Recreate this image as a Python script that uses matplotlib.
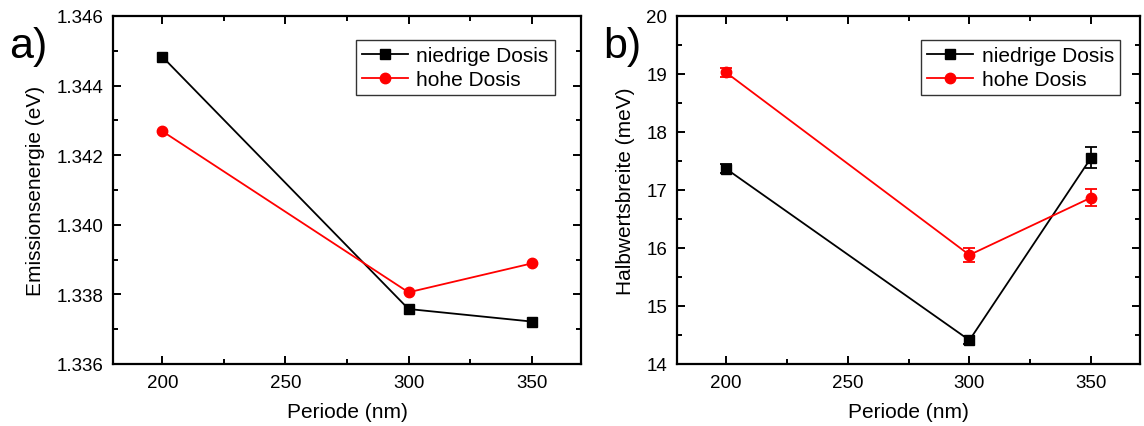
import matplotlib.pyplot as plt
from matplotlib.ticker import MultipleLocator

plt.rcParams['font.family'] = ['Liberation Sans', 'DejaVu Sans']
plt.rcParams['font.size'] = 14

# Periode der Strukturen (nm)
periode = [200, 300, 350]

# a) Emissionsenergie (eV)
energie_niedrig = [1.34483, 1.33758, 1.33722]
energie_hoch = [1.34269, 1.33806, 1.33889]

# b) Halbwertsbreite (meV) mit Fehlern
fwhm_niedrig = [17.37, 14.41, 17.56]
fwhm_niedrig_err = [0.08, 0.07, 0.18]
fwhm_hoch = [19.03, 15.88, 16.87]
fwhm_hoch_err = [0.08, 0.12, 0.15]

fig = plt.figure(figsize=(11.44, 4.27), dpi=100)
ax1 = fig.add_axes([0.0988, 0.1452, 0.409, 0.815])
ax2 = fig.add_axes([0.5918, 0.1452, 0.4047, 0.815])


def style(ax):
    for s in ax.spines.values():
        s.set_linewidth(1.6)
    ax.tick_params(which='both', direction='in', top=True, right=True,
                   labelsize=13.5, width=1.4, pad=7)
    ax.tick_params(which='major', length=6)
    ax.tick_params(which='minor', length=3.5)
    ax.set_xlim(180, 370)
    ax.xaxis.set_major_locator(MultipleLocator(50))
    ax.xaxis.set_minor_locator(MultipleLocator(25))
    ax.set_xlabel('Periode (nm)', fontsize=15, labelpad=8)


l1, = ax1.plot(periode, energie_niedrig, '-s', color='black', lw=1.3,
               ms=6.5, label='niedrige Dosis')
l2, = ax1.plot(periode, energie_hoch, '-o', color='red', lw=1.3, ms=7.5,
               label='hohe Dosis')
ax1.set_ylim(1.336, 1.346)
ax1.yaxis.set_major_locator(MultipleLocator(0.002))
ax1.yaxis.set_minor_locator(MultipleLocator(0.001))
ax1.yaxis.set_major_formatter(plt.FormatStrFormatter('%.3f'))
ax1.set_ylabel('Emissionsenergie (eV)', fontsize=15, labelpad=8)
style(ax1)

e1 = ax2.errorbar(periode, fwhm_niedrig, yerr=fwhm_niedrig_err, fmt='-s',
                  color='black', lw=1.3, ms=6.5, capsize=4, elinewidth=1.3,
                  capthick=1.3, label='niedrige Dosis')
e2 = ax2.errorbar(periode, fwhm_hoch, yerr=fwhm_hoch_err, fmt='-o',
                  color='red', lw=1.3, ms=7.5, capsize=4, elinewidth=1.3,
                  capthick=1.3, label='hohe Dosis')
ax2.set_ylim(14, 20)
ax2.yaxis.set_major_locator(MultipleLocator(1))
ax2.yaxis.set_minor_locator(MultipleLocator(0.5))
ax2.set_ylabel('Halbwertsbreite (meV)', fontsize=15, labelpad=8)
style(ax2)

for ax, handles, anchor in ((ax1, [l1, l2], (0.944, 0.931)),
                            (ax2, [e1[0], e2[0]], (0.957, 0.931))):
    leg = ax.legend(handles=handles, labels=['niedrige Dosis', 'hohe Dosis'],
                    loc='upper right', bbox_to_anchor=anchor,
                    fontsize=15, frameon=True, fancybox=False,
                    borderpad=0.3, labelspacing=0.22, handlelength=2.2,
                    handletextpad=0.4, borderaxespad=0)
    leg.get_frame().set_edgecolor('black')
    leg.get_frame().set_linewidth(1.0)

fig.text(0.008, 0.865, 'a)', fontsize=31)
fig.text(0.527, 0.865, 'b)', fontsize=31)

fig.savefig('out.png', dpi=100)
